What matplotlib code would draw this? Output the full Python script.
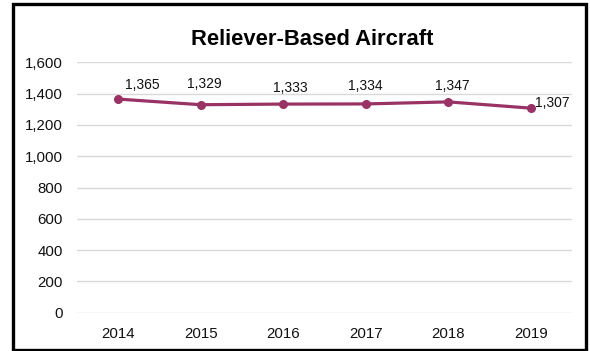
import matplotlib
matplotlib.use("Agg")
import matplotlib.pyplot as plt
from matplotlib.patches import Rectangle

years = ["2014", "2015", "2016", "2017", "2018", "2019"]
aircraft = [1365, 1329, 1333, 1334, 1347, 1307]
y_ticks = [0, 200, 400, 600, 800, 1000, 1200, 1400, 1600]
# label offsets in pixels (Excel auto-placement)
label_offsets = [(24, 14), (4, 21), (7, 16), (0, 18), (4, 16), (4, 5)]

plt.rcParams.update({"font.family": ["Liberation Sans", "DejaVu Sans"]})

LINE = "#993366"
W, H = 590, 351

fig = plt.figure(figsize=(W / 100, H / 100), dpi=100)
ax = fig.add_axes([76.7 / W, 1 - 312.7 / H, (572.3 - 76.7) / W, (312.7 - 62.3) / H])

x = list(range(len(years)))
ax.plot(x, aircraft, color=LINE, lw=2.3, marker="o", markersize=5.5, zorder=3,
        solid_capstyle="round")
for i, v in enumerate(aircraft):
    dx, dy = label_offsets[i]
    ha = "left" if i == len(aircraft) - 1 else "center"
    ax.annotate(f"{v:,}", (i, v), xytext=(dx, dy), textcoords="offset pixels",
                ha=ha, va="center", fontsize=10, color="#111111")

ax.set_xlim(-0.5, len(years) - 0.5)
ax.set_ylim(0, 1600)
ax.set_xticks(x)
ax.set_xticklabels(years)
ax.set_yticks(y_ticks)
ax.set_yticklabels([f"{t:,}" for t in y_ticks])
ax.tick_params(length=0, labelsize=10.8, pad=10, colors="#111111")
ax.yaxis.grid(True, color="#d9d9d9", lw=1.0)
ax.set_axisbelow(True)
for s in ax.spines.values():
    s.set_visible(False)

fig.text(312.5 / W, 1 - 39.5 / H, "Reliever-Based Aircraft",
         ha="center", va="center", fontsize=15.8, fontweight="bold")

# outer chart border
fig.patches.append(Rectangle((12.5 / W, 1 - 349.5 / H), (586 - 12.5) / W, (349.5 - 4) / H,
                             transform=fig.transFigure, fill=False, ec="black", lw=2.4))

fig.savefig("out.png", dpi=100)
